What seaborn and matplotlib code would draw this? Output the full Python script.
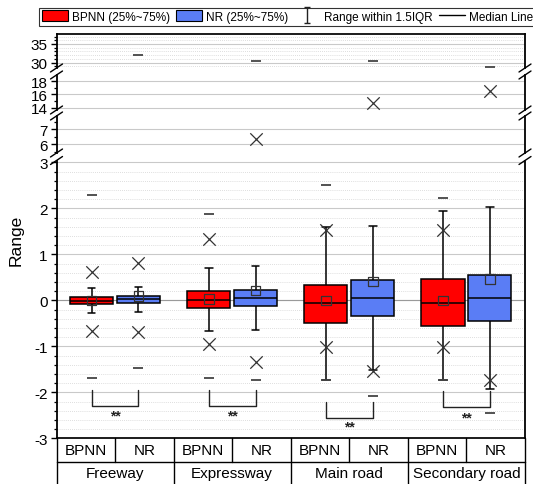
import numpy as np
import pandas as pd
import matplotlib
matplotlib.use("Agg")
import matplotlib.pyplot as plt
import matplotlib.transforms as mtransforms
import seaborn as sns
from matplotlib.lines import Line2D
from matplotlib.patches import Patch
from matplotlib.path import Path
from matplotlib.ticker import MultipleLocator, FixedLocator

# ---------------------------------------------------------------- data
roads = ["Freeway", "Expressway", "Main road", "Secondary road"]
models = ["BPNN", "NR"]

# box statistics (whisker = range within 1.5 IQR)
bpnn_whisker_low = [-0.28, -0.66, -1.74, -1.74]
bpnn_q1 = [-0.09, -0.16, -0.49, -0.56]
bpnn_median = [-0.01, 0.01, -0.05, -0.05]
bpnn_q3 = [0.07, 0.20, 0.33, 0.47]
bpnn_whisker_high = [0.27, 0.70, 1.60, 1.94]
bpnn_mean = [0.00, 0.03, 0.00, 0.00]
bpnn_p1 = [-0.67, -0.94, -1.01, -1.01]
bpnn_p99 = [0.62, 1.33, 1.52, 1.52]
bpnn_min = [-1.68, -1.68, -1.74, -1.74]
bpnn_max = [2.28, 1.88, 2.50, 2.22]

nr_whisker_low = [-0.26, -0.64, -1.51, -1.92]
nr_q1 = [-0.05, -0.12, -0.34, -0.46]
nr_median = [0.03, 0.04, 0.04, 0.04]
nr_q3 = [0.10, 0.23, 0.45, 0.54]
nr_whisker_high = [0.30, 0.75, 1.62, 2.02]
nr_mean = [0.10, 0.21, 0.41, 0.47]
nr_p1 = [-0.69, -1.35, -1.54, -1.74]
nr_p99 = [0.81, 6.33, 14.67, 16.55]
nr_min = [-1.47, -1.74, -2.07, -2.44]
nr_max = [32.1, 30.5, 30.5, 28.9]

# significance brackets: top of bracket legs, bottom of bracket, star label
bracket_top = [-1.94, -1.94, -2.20, -1.98]
bracket_bottom = [-2.30, -2.29, -2.55, -2.33]
star_y = [-2.50, -2.50, -2.75, -2.55]
star_text = ["**", "**", "**", "**"]

# axis segments of the broken y axis: (ylim, major ticks, minor step)
seg_limits = [(28.58, 37.67), (13.65, 18.95), (5.40, 7.87), (-3.0, 3.04)]
seg_major = [[30, 35], [14, 16, 18], [6, 7], [-3, -2, -1, 0, 1, 2, 3]]
seg_minor = [1, 1, 0.5, 0.2]

RED = "#FF0000"
BLUE = "#5A7DF5"

# ---------------------------------------------------------------- style
sns.set_theme(style="white")
plt.rcParams["font.family"] = ["Liberation Sans", "DejaVu Sans"]
plt.rcParams["axes.edgecolor"] = "black"

W, H = 533, 485
fig = plt.figure(figsize=(W / 100, H / 100), dpi=100)

X0, X1 = 56.5, 525.0
seg_px = [(35, 69), (76, 111), (117, 154), (161.5, 439.3)]


def make_axes(top, bottom):
    return fig.add_axes([X0 / W, 1 - bottom / H, (X1 - X0) / W, (bottom - top) / H])


axes = [make_axes(t, b) for t, b in seg_px]
ax_a, ax_b, ax_c, ax_d = axes

# ---------------------------------------------------------------- boxes
rows = []
for model, lo, q1, med, q3, hi in [
    ("BPNN", bpnn_whisker_low, bpnn_q1, bpnn_median, bpnn_q3, bpnn_whisker_high),
    ("NR", nr_whisker_low, nr_q1, nr_median, nr_q3, nr_whisker_high),
]:
    for i, road in enumerate(roads):
        for v in (lo[i], q1[i], med[i], q3[i], hi[i]):
            rows.append({"road": road, "model": model, "value": v})
box_df = pd.DataFrame(rows)

sns.boxplot(
    data=box_df, x="road", y="value", hue="model", order=roads,
    hue_order=models, palette=[RED, BLUE], saturation=1, width=0.8,
    gap=0.08, whis=(0, 100), linecolor="black", linewidth=1.1,
    showfliers=False, legend=False, ax=ax_d, capwidths=0.065,
)

# ---------------------------------------------------------------- markers
offset = {"BPNN": -0.2, "NR": 0.2}


def marker_frame(bpnn_vals, nr_vals):
    out = []
    for model, vals in (("BPNN", bpnn_vals), ("NR", nr_vals)):
        for i, v in enumerate(vals):
            out.append({"pos": (i % len(roads)) + offset[model], "value": v})
    return pd.DataFrame(out)


means = marker_frame(bpnn_mean, nr_mean)
pcts = marker_frame(bpnn_p1 + bpnn_p99, nr_p1 + nr_p99)
extremes = marker_frame(bpnn_min + bpnn_max, nr_min + nr_max)

for ax, (lo, hi) in zip(axes, seg_limits):
    sub = extremes[(extremes.value >= lo) & (extremes.value <= hi)]
    if len(sub):
        sns.scatterplot(data=sub, x="pos", y="value", marker="_", s=60,
                        color="#444444", linewidth=1.3, ax=ax, legend=False,
                        zorder=6)
    sub = pcts[(pcts.value >= lo) & (pcts.value <= hi)]
    if len(sub):
        sns.scatterplot(data=sub, x="pos", y="value", marker="x", s=80,
                        color="#333333", linewidth=0.9, ax=ax, legend=False,
                        zorder=6)
    sub = means[(means.value >= lo) & (means.value <= hi)]
    if len(sub):
        sns.scatterplot(data=sub, x="pos", y="value", marker="s", s=48,
                        facecolor="none", edgecolor="#333333", linewidth=0.9,
                        ax=ax, legend=False, zorder=6)

# ---------------------------------------------------------------- brackets
for i in range(len(roads)):
    xl, xr = i + offset["BPNN"], i + offset["NR"]
    ax_d.plot([xl, xl, xr, xr],
              [bracket_top[i], bracket_bottom[i], bracket_bottom[i], bracket_top[i]],
              color="#222222", lw=1.0, zorder=6)
    ax_d.text(i, star_y[i], star_text[i], ha="center", va="center",
              fontsize=10, fontweight="bold", color="#222222")

# ---------------------------------------------------------------- axes styling
for k, ax in enumerate(axes):
    lo, hi = seg_limits[k]
    ax.set_ylim(lo, hi)
    ax.set_xlim(-0.5, 3.5)
    ax.set_xticks([])
    ax.set_xlabel("")
    ax.set_ylabel("")
    ax.yaxis.set_major_locator(FixedLocator(seg_major[k]))
    ax.yaxis.set_minor_locator(MultipleLocator(seg_minor[k]))
    ax.set_yticklabels([str(v) for v in seg_major[k]])
    ax.tick_params(axis="y", which="major", left=True, direction="out",
                   length=4.5, width=1.0, color="black", labelsize=11,
                   labelcolor="black", pad=2)
    ax.tick_params(axis="y", which="minor", left=True, direction="out",
                   length=2.5, width=0.9, color="black")
    ax.set_axisbelow(True)
    ax.grid(False)
    ax.yaxis.grid(True, which="major", color="#c9c9c9", lw=0.8)
    ax.patch.set_alpha(0)
    for side in ("left", "right"):
        ax.spines[side].set_visible(True)
        ax.spines[side].set_color("black")
        ax.spines[side].set_linewidth(1.3)
    ax.spines["top"].set_visible(ax is ax_a)
    ax.spines["bottom"].set_visible(ax is ax_d)
    ax.spines["top"].set_color("black")
    ax.spines["bottom"].set_color("black")

ax_d.yaxis.grid(True, which="minor", color="#d4d4d4", lw=0.6, ls=(0, (1, 1.5)))
ax_a.yaxis.grid(True, which="minor", color="#d4d4d4", lw=0.6, ls=(0, (1, 1.5)))
ax_d.axhline(0, color="#9a9a9a", lw=0.8, zorder=1)

# break marks on both spines
for (t_up, b_up), (t_lo, b_lo) in zip(seg_px[:-1], seg_px[1:]):
    for xs in (X0, X1):
        for yp in (b_up, t_lo):
            fig.add_artist(Line2D([(xs - 6) / W, (xs + 6) / W],
                                  [1 - (yp + 4) / H, 1 - (yp - 4) / H],
                                  transform=fig.transFigure, color="black",
                                  lw=1.0))

# ---------------------------------------------------------------- category table
trans = mtransforms.blended_transform_factory(ax_d.transData, fig.transFigure)
y_top, y_mid, y_bot = 439.3, 463.0, 485.0
fig.add_artist(Line2D([-0.5, 3.5], [1 - y_mid / H] * 2, transform=trans,
                      color="black", lw=1.0))
for xv in np.arange(-0.5, 3.51, 0.5):
    fig.add_artist(Line2D([xv, xv], [1 - y_top / H, 1 - y_mid / H],
                          transform=trans, color="black", lw=1.0))
for xv in np.arange(-0.5, 3.51, 1.0):
    fig.add_artist(Line2D([xv, xv], [1 - y_mid / H, 1 - y_bot / H],
                          transform=trans, color="black", lw=1.0))
for i, road in enumerate(roads):
    for model in models:
        fig.text(i + offset[model] * 1.25, 1 - 451 / H, model, transform=trans,
                 ha="center", va="center", fontsize=11, color="black")
    fig.text(i, 1 - 474.5 / H, road, transform=trans, ha="center",
             va="center", fontsize=11, color="black")

fig.text(16 / W, 1 - 240 / H, "Range", rotation=90, ha="center", va="center",
         fontsize=12.5, color="black")

# ---------------------------------------------------------------- legend
cap_path = Path(
    [(-0.4, -1), (0.4, -1), (0, -1), (0, 1), (-0.4, 1), (0.4, 1)],
    [Path.MOVETO, Path.LINETO, Path.MOVETO, Path.LINETO, Path.MOVETO, Path.LINETO],
)
handles = [
    Patch(facecolor=RED, edgecolor="black", lw=0.8),
    Patch(facecolor=BLUE, edgecolor="black", lw=0.8),
    Line2D([], [], ls="none", marker=cap_path, markersize=11,
           markeredgewidth=1.0, color="#222222", markerfacecolor="none"),
    Line2D([], [], color="black", lw=1.0),
]
labels = ["BPNN (25%~75%)", "NR (25%~75%)", "Range within 1.5IQR", "Median Line"]
leg = fig.legend(handles, labels, loc="upper left",
                 bbox_to_anchor=(39 / W, 1 - 8.5 / H), ncol=4, frameon=True,
                 fontsize=8.5, handlelength=2.2, handleheight=1.0,
                 handletextpad=0.35, columnspacing=0.5, borderpad=0.25,
                 borderaxespad=0, fancybox=False, edgecolor="black")
leg.get_frame().set_linewidth(0.8)
for t in leg.get_texts():
    t.set_color("black")

fig.savefig("out.png", dpi=100)
